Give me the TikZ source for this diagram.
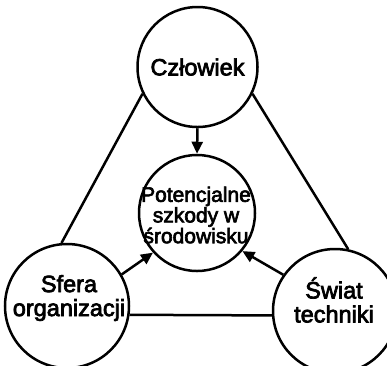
\documentclass[tikz,border=0pt]{standalone}
\usepackage{fontspec}
\setmainfont{Liberation Sans}
\newfontfamily\heavy{Liberation Sans}[FakeBold=3]
\usetikzlibrary{arrows.meta}
\begin{document}
\begin{tikzpicture}[x=1pt,y=-1pt,
  circ/.style={draw,circle,line width=2.5pt,inner sep=0pt,minimum size=#1},
  txt/.style={align=center,inner sep=0pt,font=\heavy\fontsize{23.5}{24}\selectfont},
  link/.style={line width=2.5pt},
  arr/.style={line width=2.5pt,-{Triangle[length=12pt,width=11pt]}}]
\useasboundingbox (0,0) rectangle (387,365);
\clip (0,0) rectangle (387,365);
\node[circ=120pt] (C) at (197.5,67) {};
\node[circ=116pt] (P) at (197,213) {};
\node[circ=124pt] (S) at (67,306) {};
\node[circ=124pt] (W) at (335,311) {};
\node[txt] (Ct) at (197.5,67) {Człowiek};
\node[txt,font=\heavy\fontsize{21}{19.5}\selectfont] (Pt) at (196,215) {Potencjalne\\szkody w\\środowisku};
\node[txt] (St) at (69,298) {Sfera\\organizacji};
\node[txt] (Wt) at (334,300) {Świat\\techniki};
\draw[link] (C.206) -- (S.95);
\draw[link] (C.334) -- (W.78);
\draw[link] (S.-8) -- (W.184);
\draw[arr] (C.south) -- (P.north);
\draw[arr] (S.30) -- (P.222);
\draw[arr] (W.145) -- (P.320);
\end{tikzpicture}
\end{document}
